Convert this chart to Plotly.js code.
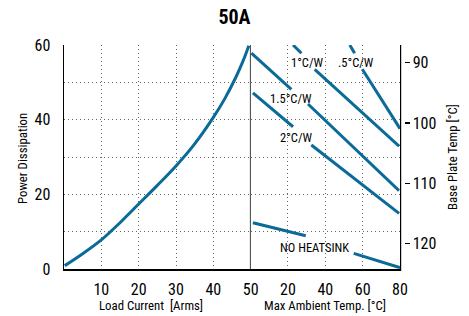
<!DOCTYPE html>
<html>
<head>
<meta charset="utf-8">
<script src="https://cdn.plot.ly/plotly-3.0.1.min.js"></script>
<style>html,body{margin:0;padding:0;background:#fff;}#chart{width:469px;height:316px;}</style>
</head>
<body>
<div id="chart"></div>
<script>
// Left panel: power dissipation vs load current
var loadCurrent = [0.2, 5, 10, 15, 20, 25, 30, 35, 40, 43, 46, 48, 49.5];
var powerLoad   = [0.9, 4.1, 7.8, 12.4, 17.4, 22.4, 27.6, 33.5, 40.6, 45.5, 51.3, 55.8, 59.8];

// Right panel: power dissipation vs max ambient temp (segments broken by labels)
var r05T  = [53.1, 55.7, null, 59.8, 80];   var r05P  = [60, 57.8, null, 53.5, 37.6];
var r1T   = [22.7, 27.2, null, 34.3, 79.5]; var r1P   = [60, 57.8, null, 53.5, 32.9];
var r15T  = [0.4, 21.8, null, 30.7, 79.5];  var r15P  = [57.8, 48.1, null, 44.2, 21.0];
var r2T   = [1.2, 22.7, null, 32.5, 79.5];  var r2P   = [47.2, 38.1, null, 33.2, 14.9];
var noHsT = [1.2, 29.5, null, 55.2, 80];    var noHsP = [12.4, 8.9, null, 4.2, 0.35];

// Line labels
var labelText = ['1°C/W', '.5°C/W', '1.5°C/W', '2°C/W', 'NO HEATSINK'];
var labelT    = [30.7, 56.6, 21.8, 24.8, 34.4];
var labelP    = [55.4, 55.4, 45.7, 35.3, 5.8];

// Tick labels
var loadTicks = [10, 20, 30, 40, 50];
var ambTicks = [20, 40, 60, 80];
var powerTicks = [0, 10, 20, 30, 40, 50, 60];
var powerTickText = ['0', '', '20', '', '40', '', '60'];
var baseTicks = [90, 100, 110, 120];

var FONT = 'Roboto Condensed, Liberation Sans Narrow, sans-serif';
var BLUE = '#0a6a98';
var lineStyle = {color: BLUE, width: 3};

var traces = [
  {x: loadCurrent, y: powerLoad, mode: 'lines', line: {color: BLUE, width: 3, shape: 'spline'}, xaxis: 'x', yaxis: 'y', hoverinfo: 'skip'},
  {x: r05T, y: r05P, mode: 'lines', line: lineStyle, xaxis: 'x2', yaxis: 'y', connectgaps: false, hoverinfo: 'skip'},
  {x: r1T, y: r1P, mode: 'lines', line: lineStyle, xaxis: 'x2', yaxis: 'y', connectgaps: false, hoverinfo: 'skip'},
  {x: r15T, y: r15P, mode: 'lines', line: lineStyle, xaxis: 'x2', yaxis: 'y', connectgaps: false, hoverinfo: 'skip'},
  {x: r2T, y: r2P, mode: 'lines', line: lineStyle, xaxis: 'x2', yaxis: 'y', connectgaps: false, hoverinfo: 'skip'},
  {x: noHsT, y: noHsP, mode: 'lines', line: lineStyle, xaxis: 'x2', yaxis: 'y', connectgaps: false, hoverinfo: 'skip'},
  {x: [], y: [], mode: 'lines', xaxis: 'x2', yaxis: 'y2', hoverinfo: 'skip'}
];

var annotations = [];
for (var i = 0; i < labelText.length; i++) {
  annotations.push({x: labelT[i], y: labelP[i], xref: 'x2', yref: 'y', text: labelText[i], showarrow: false,
    font: {family: FONT, size: 12.5, color: '#000'}, xanchor: 'center', yanchor: 'middle'});
}
annotations.push({x: (151 - 64) / 336, y: (269 - 305) / 224, xref: 'paper', yref: 'paper', text: 'Load Current\u00a0\u00a0[Arms]',
  showarrow: false, font: {family: FONT, size: 12.8, color: '#000'}, xanchor: 'center', yanchor: 'middle'});
annotations.push({x: (325 - 64) / 336, y: (269 - 305) / 224, xref: 'paper', yref: 'paper', text: 'Max Ambient Temp. [°C]',
  showarrow: false, font: {family: FONT, size: 12.8, color: '#000'}, xanchor: 'center', yanchor: 'middle'});
annotations.push({x: (22 - 64) / 336, y: (269 - 159) / 224, xref: 'paper', yref: 'paper', text: 'Power Dissipation', textangle: -90,
  showarrow: false, font: {family: FONT, size: 12.8, color: '#000'}, xanchor: 'center', yanchor: 'middle'});
annotations.push({x: (452 - 64) / 336, y: (269 - 157) / 224, xref: 'paper', yref: 'paper', text: 'Base Plate Temp [°C]', textangle: -90,
  showarrow: false, font: {family: FONT, size: 12.8, color: '#000'}, xanchor: 'center', yanchor: 'middle'});

var gridDash = '1px,3px';
var GRID = '#666';
var tickFont = {family: FONT, size: 16, color: '#000'};

var layout = {
  width: 469, height: 316,
  margin: {l: 64, r: 69, t: 45, b: 47, pad: 0},
  paper_bgcolor: '#fff', plot_bgcolor: '#fff',
  showlegend: false,
  font: {family: FONT, color: '#000'},
  title: {text: '<b>50A</b>', font: {family: FONT, size: 20, color: '#000'}, x: 0.5, xref: 'container', y: 1 - 17 / 316, yref: 'container', yanchor: 'middle'},
  xaxis: {domain: [0, 5 / 9], range: [0, 50], tickvals: loadTicks, ticks: 'outside', ticklen: 5, tickcolor: 'rgba(0,0,0,0)',
    tickfont: tickFont, showgrid: true, gridcolor: GRID, griddash: gridDash, gridwidth: 1, zeroline: false,
    showline: true, linecolor: '#000', linewidth: 1.5, anchor: 'y', fixedrange: true},
  xaxis2: {domain: [5 / 9, 1], range: [0, 80], tickvals: ambTicks, ticks: 'outside', ticklen: 5, tickcolor: 'rgba(0,0,0,0)',
    tickfont: tickFont, showgrid: true, gridcolor: GRID, griddash: gridDash, gridwidth: 1, zeroline: false,
    showline: true, linecolor: '#000', linewidth: 1.5, anchor: 'y', fixedrange: true},
  yaxis: {domain: [0, 1], range: [0, 60], tickvals: powerTicks, ticktext: powerTickText, ticks: 'outside', ticklen: 9, tickcolor: 'rgba(0,0,0,0)',
    tickfont: tickFont, showgrid: true, gridcolor: GRID, griddash: gridDash, gridwidth: 1, zeroline: false,
    showline: true, linecolor: '#000', linewidth: 1.5, anchor: 'x', fixedrange: true},
  yaxis2: {overlaying: 'y', side: 'right', anchor: 'x2', range: [124.27, 87.06], tickvals: baseTicks, ticks: 'outside', ticklen: 8,
    tickcolor: '#000', tickwidth: 1.2, tickfont: tickFont, showgrid: false, zeroline: false,
    showline: true, linecolor: '#000', linewidth: 1.5, fixedrange: true},
  shapes: [
    {type: 'line', xref: 'x', yref: 'y', x0: 50, x1: 50, y0: 0, y1: 60, line: {color: '#000', width: 1.5}, layer: 'above'},
    {type: 'rect', xref: 'paper', yref: 'paper', x0: (401.2 - 64) / 336, x1: (405 - 64) / 336, y0: -0.01, y1: 1.01,
      fillcolor: '#fff', line: {width: 0}, layer: 'above'}
  ],
  annotations: annotations
};

Plotly.newPlot('chart', traces, layout, {staticPlot: true, displayModeBar: false});
</script>
</body>
</html>
